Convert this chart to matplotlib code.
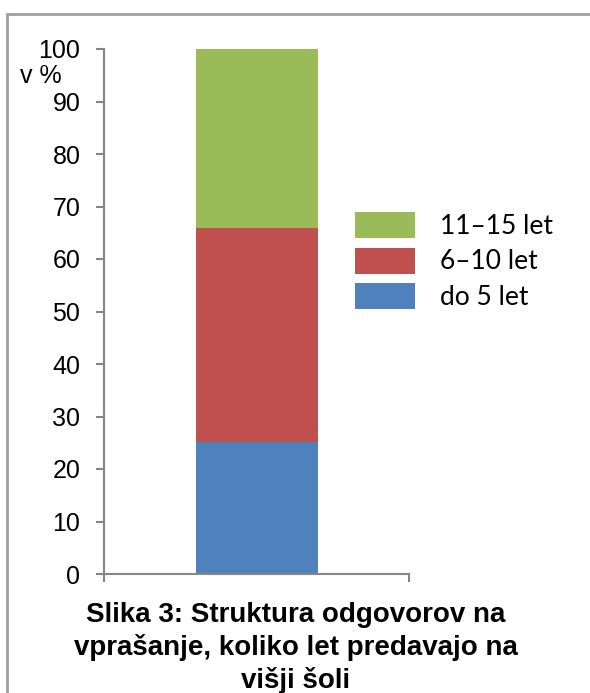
import matplotlib.pyplot as plt
from matplotlib.patches import Rectangle

# data
categories = ['']
series_names = ['do 5 let', '6\u201310 let', '11\u201315 let']
series_values = [[25.1], [40.8], [34.1]]
colors = ['#4F81BD', '#C0504D', '#9BBB59']
yticks = [0, 10, 20, 30, 40, 50, 60, 70, 80, 90, 100]

W, H = 590, 693
fig = plt.figure(figsize=(W / 100, H / 100), dpi=100)
ax = fig.add_axes([104 / W, 1 - 574 / H, (409 - 104) / W, (574 - 49) / H])

# outer frame (runs off the right and bottom edge)
fig.patches.append(Rectangle((7 / W, -0.1), 1.2, 1 - 14 / H + 0.1,
                             transform=fig.transFigure, fill=False,
                             edgecolor='#A0A0A0', linewidth=2))

bottom = [0] * len(categories)
bars = []
for name, vals, c in zip(series_names, series_values, colors):
    b = ax.bar(range(len(categories)), vals, width=0.4, bottom=bottom,
               color=c, label=name, zorder=2)
    bars.append(b)
    bottom = [a + v for a, v in zip(bottom, vals)]

ax.set_xlim(-0.5, 0.5)
ax.set_ylim(0, 100)
ax.set_yticks(yticks)
ax.set_xticks([-0.5, 0.5])
ax.set_xticklabels([])
for lab in ax.get_yticklabels():
    lab.set_fontfamily('Liberation Sans')
ax.tick_params(axis='y', labelsize=18, length=6, color='#868686', width=1.5, pad=11)
ax.tick_params(axis='x', length=6, color='#868686', width=1.5, direction='out')
for s in ['top', 'right']:
    ax.spines[s].set_visible(False)
for s in ['left', 'bottom']:
    ax.spines[s].set_color('#868686')
    ax.spines[s].set_linewidth(1.5)

fig.text(20 / W, 1 - 76 / H, 'v %', fontsize=18, family='Liberation Sans',
         ha='left', va='center')

leg = ax.legend(handles=bars[::-1], labels=series_names[::-1],
                loc='center left', bbox_to_anchor=((355 - 104) / 305, (574 - 261) / 525),
                frameon=False, prop={'family': 'Lato', 'size': 19},
                handlelength=2.27, handleheight=1.14, labelspacing=0.32,
                handletextpad=0.95, borderaxespad=0, borderpad=0)

fig.text(296 / W, 1 - 648 / H,
         'Slika 3: Struktura odgovorov na\nvprašanje, koliko let predavajo na\nvišji šoli',
         ha='center', va='center', fontsize=20, fontweight='bold',
         family='Liberation Sans', linespacing=1.27)

fig.savefig('out.png', dpi=100)
